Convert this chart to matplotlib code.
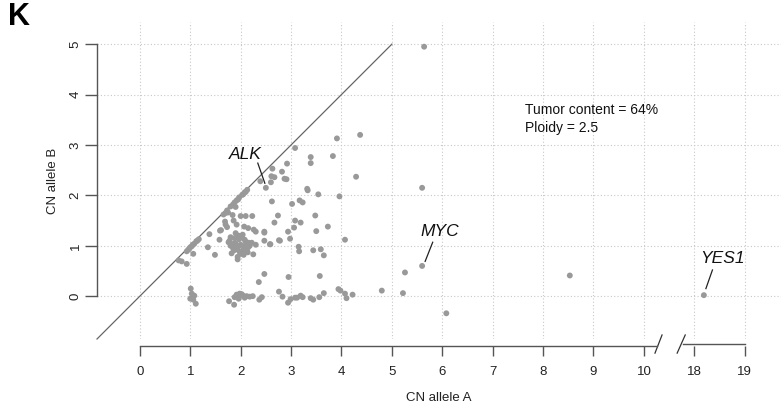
import numpy as np
import matplotlib
matplotlib.use("Agg")
import matplotlib.pyplot as plt

plt.rcParams['font.family'] = ['Liberation Sans', 'DejaVu Sans']

# copy number per segment (allele A, allele B)
cn_a = [4.37, 3.91, 3.08, 3.39, 3.83, 3.39, 4.29, 2.92, 2.82, 2.63, 2.61, 2.67, 2.87, 2.91,
        2.39, 2.50, 2.60, 3.32, 3.33, 3.54, 3.96, 2.62, 3.02, 3.17, 3.23,
        2.13, 2.08, 2.03, 1.97, 1.92, 1.90, 1.73, 1.75, 1.84, 2.00, 2.10, 2.23, 2.74, 3.48,
        3.08, 3.19, 2.67, 3.73, 3.06, 1.69, 1.86, 1.70, 1.73, 1.92, 2.07, 2.15, 2.26, 2.30,
        2.47, 2.94, 3.50, 1.59, 1.38, 1.58, 2.98, 2.47, 2.59, 2.78, 4.07, 3.15, 3.16, 3.44,
        3.59, 3.65, 1.35, 1.49, 2.25, 1.94, 2.22, 2.30, 1.61, 2.47, 2.58, 2.76,
        # dense cluster near (2, 1)
        1.80, 1.85, 1.90, 1.95, 2.00, 2.05, 2.10, 2.15, 1.78, 1.88, 1.98, 2.08, 2.18,
        1.82, 1.92, 2.02, 2.12, 1.86, 1.96, 2.06, 1.76, 2.16, 1.94, 2.04, 1.84, 2.14,
        1.90, 2.00, 2.10, 1.80, 1.97, 2.07, 1.87,
        # along the diagonal
        1.17, 1.12, 1.08, 1.03, 0.98, 0.93, 1.06, 0.77, 0.83, 0.93, 1.00, 1.05, 1.14, 0.96,
        1.85, 1.88, 1.95, 2.05, 2.10, 1.80, 1.70, 1.66,
        # near zero
        1.01, 1.03, 1.08, 1.00, 1.06, 1.11, 1.77, 1.87, 1.92, 1.98, 2.05, 2.12, 1.88, 1.96,
        2.18, 2.24, 2.37, 2.42, 2.36, 2.47, 2.76, 2.83, 2.94, 2.99, 3.08, 3.12, 3.19, 3.23,
        3.39, 3.44, 3.56, 3.65, 2.95, 3.57, 3.94, 3.98, 4.07, 4.10, 4.22, 4.80, 2.02, 2.08,
        # right side
        5.64, 5.60, 5.26, 5.22, 6.08, 8.53, 5.60, 18.19]
cn_b = [3.20, 3.13, 2.94, 2.76, 2.78, 2.64, 2.37, 2.63, 2.47, 2.53, 2.38, 2.36, 2.33, 2.32,
        2.28, 2.15, 2.26, 2.13, 2.10, 2.02, 1.98, 1.88, 1.83, 1.90, 1.86,
        2.11, 2.06, 2.01, 1.96, 1.90, 1.77, 1.70, 1.66, 1.61, 1.59, 1.59, 1.59, 1.60, 1.60,
        1.50, 1.46, 1.46, 1.38, 1.36, 1.48, 1.50, 1.42, 1.37, 1.42, 1.38, 1.35, 1.32, 1.28,
        1.26, 1.28, 1.29, 1.30, 1.23, 1.12, 1.14, 1.10, 1.03, 1.10, 1.12, 0.98, 0.89, 0.91,
        0.93, 0.81, 0.97, 0.82, 0.83, 0.73, 1.06, 1.02, 1.31, 1.28, 1.03, 1.11,
        1.00, 0.95, 1.05, 0.98, 1.02, 0.92, 1.08, 0.97, 1.10, 1.15, 0.88, 1.12, 1.00,
        0.85, 0.93, 1.18, 0.90, 1.04, 1.20, 0.82, 1.07, 1.06, 0.78, 1.22, 0.99, 0.87,
        1.25, 0.84, 1.01, 1.17, 1.13, 0.95, 0.91,
        1.13, 1.09, 1.04, 0.99, 0.94, 0.89, 0.84, 0.71, 0.69, 0.64, 0.97, 1.02, 1.10, 0.92,
        1.82, 1.86, 1.92, 2.02, 2.07, 1.78, 1.65, 1.62,
        0.15, 0.05, 0.01, -0.05, -0.07, -0.15, -0.10, -0.17, 0.03, 0.05, 0.01, 0.00, -0.02, -0.05,
        -0.01, 0.00, -0.07, -0.02, 0.28, 0.44, 0.09, -0.01, -0.13, -0.06, -0.03, -0.03, 0.01, -0.02,
        -0.04, -0.07, -0.02, 0.06, 0.38, 0.40, 0.14, 0.11, 0.05, -0.04, 0.03, 0.11, 0.04, -0.03,
        4.95, 2.15, 0.47, 0.06, -0.34, 0.41, 0.60, 0.02]

genes = ['ALK', 'MYC', 'YES1']
gene_a = [2.50, 5.60, 18.19]
gene_b = [2.16, 0.60, 0.02]

xtick_vals = [0, 1, 2, 3, 4, 5, 6, 7, 8, 9, 10, 18, 19]
ytick_vals = [0, 1, 2, 3, 4, 5]
purity = 64
ploidy = 2.5


def to_pos(v):
    # broken axis: values from 18 upward are shifted next to 10
    v = np.asarray(v, dtype=float)
    return np.where(v > 10.5, v - 7, v)


fig = plt.figure(figsize=(7.81, 4.19), dpi=100)
ax = fig.add_axes([97 / 781, 80 / 419, 684 / 781, 317 / 419])
ax.set_xlim(-0.85, 12.72)
ax.set_ylim(-0.85, 5.44)

xpos = to_pos(xtick_vals)
ax.set_xticks(xpos)
ax.set_xticklabels([str(v) for v in xtick_vals])
ax.set_yticks(ytick_vals)
ax.set_yticklabels([str(v) for v in ytick_vals], rotation=90, va='center')
ax.grid(True, color='#c8c8c8', linestyle=(0, (1, 2)), linewidth=0.8)
ax.set_axisbelow(True)

for s in ['top', 'right']:
    ax.spines[s].set_visible(False)
ax.spines['left'].set_bounds(0, 5)
ax.spines['bottom'].set_position(('outward', 5))
ax.spines['bottom'].set_bounds(0, 10.26)
for s in ['left', 'bottom']:
    ax.spines[s].set_color('#555555')
    ax.spines[s].set_linewidth(1.0)
ax.tick_params(axis='x', length=7, width=1, color='#555555', pad=7.5, labelsize=9.5, labelcolor='#222222')
ax.tick_params(axis='y', length=9, width=1, color='#555555', pad=2, labelsize=9.5, labelcolor='#222222')

# second segment of the x axis and break marks
yb = -0.85 - 5 / 50.4
ax.plot([10.78, 12], [yb, yb], color='#555555', lw=1.0, clip_on=False)
ax.plot([10.22, 10.36], [-1.13, -0.77], color='#333333', lw=0.9, clip_on=False)
ax.plot([10.66, 10.82], [-1.13, -0.77], color='#333333', lw=0.9, clip_on=False)

# diagonal A = B
ax.plot([-0.85, 5], [-0.85, 5], color='#666666', lw=0.9, clip_on=False)

ax.scatter(to_pos(cn_a), cn_b, s=18, color='#999999', edgecolors='none', zorder=3)

# gene labels with leader lines
label_off = [(-0.40, 0.66), (0.35, 0.69), (0.36, 0.73)]
line_off = [((-0.16, 0.48), (-0.02, 0.08)), ((0.21, 0.47), (0.06, 0.09)), ((0.17, 0.50), (0.04, 0.13))]
for g, a, b, lo, ll in zip(genes, to_pos(gene_a), gene_b, label_off, line_off):
    ax.text(a + lo[0], b + lo[1], g, fontsize=12.5, style='italic', ha='center', va='center', color='#111111')
    ax.plot([a + ll[0][0], a + ll[1][0]], [b + ll[0][1], b + ll[1][1]], color='#222222', lw=0.9)

ax.text(7.64, 3.69, 'Tumor content = %d%%' % purity, fontsize=10, va='center', ha='left', color='#111111')
ax.text(7.64, 3.33, 'Ploidy = %s' % ploidy, fontsize=10, va='center', ha='left', color='#111111')

ax.set_xlabel('CN allele A', fontsize=9.5, color='#222222', labelpad=10)
ax.set_ylabel('CN allele B', fontsize=9.5, color='#222222', labelpad=8)

fig.text(8 / 781, 1 - 17 / 419, 'K', fontsize=22, fontweight='bold', va='center', ha='left')

fig.savefig('out.png', dpi=100)
